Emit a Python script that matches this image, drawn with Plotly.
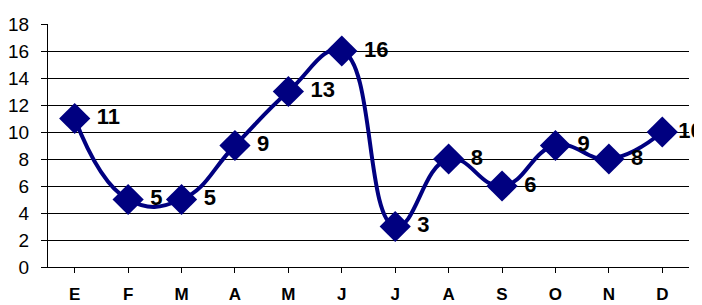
import plotly.graph_objects as go

months = ["E", "F", "M", "A", "M", "J", "J", "A", "S", "O", "N", "D"]
values = [11, 5, 5, 9, 13, 16, 3, 8, 6, 9, 8, 10]
y_ticks = [0, 2, 4, 6, 8, 10, 12, 14, 16, 18]

x_idx = list(range(len(months)))
labels = [" " + str(v) for v in values[:-1]] + [str(values[-1])]

fig = go.Figure()
fig.add_trace(go.Scatter(
    x=x_idx, y=values,
    mode="lines+markers+text",
    line=dict(color="#000080", width=4, shape="spline", smoothing=1.3),
    marker=dict(symbol="diamond", size=24, color="#000080"),
    text=labels,
    textposition="middle right",
    textfont=dict(family="Liberation Sans, Arial", size=22, color="black"),
    texttemplate="<b>%{text}</b>",
    cliponaxis=False,
    hoverinfo="skip",
))

# page body has an 8px default margin, so the figure is shrunk by 8px
fig.update_layout(
    width=694, height=297,
    margin=dict(l=40, r=13, t=16, b=38, autoexpand=False),
    plot_bgcolor="white", paper_bgcolor="white",
    showlegend=False,
    font=dict(family="Liberation Sans, Arial", color="black"),
)
fig.update_xaxes(
    tickmode="array", tickvals=x_idx,
    ticktext=["<b>%s</b>" % m for m in months],
    range=[-0.5, 11.5],
    showgrid=False, zeroline=False,
    showline=True, linecolor="black", linewidth=1,
    ticks="outside", tickson="boundaries", ticklen=5, tickcolor="black",
    ticklabelstandoff=7,
    tickfont=dict(size=17, family="Liberation Sans, Arial"),
    automargin=False,
)
fig.update_yaxes(
    tickmode="array", tickvals=y_ticks,
    range=[0, 18],
    showgrid=True, gridcolor="black", gridwidth=1,
    zeroline=False,
    showline=True, linecolor="black", linewidth=1,
    ticks="outside", ticklen=6, tickcolor="black",
    ticklabelstandoff=8,
    tickfont=dict(size=19, family="Liberation Sans, Arial"),
    automargin=False,
)

fig.write_html("out.html")
